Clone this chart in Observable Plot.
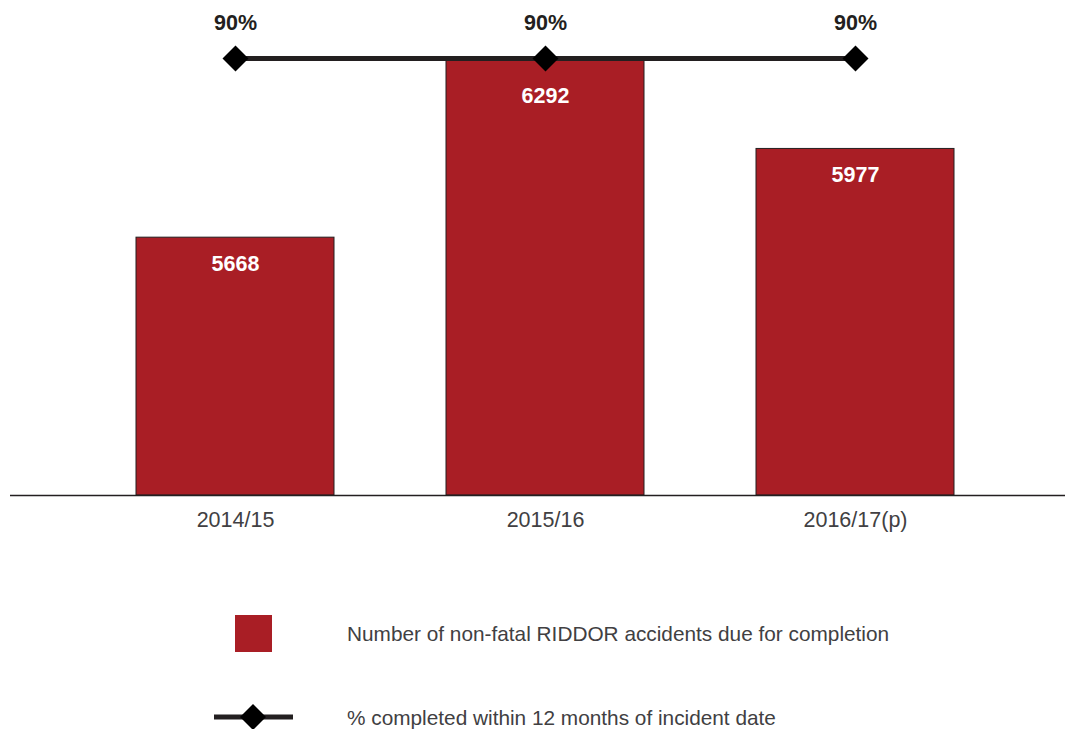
<!DOCTYPE html>
<html>
<head>
<meta charset="utf-8">
<script src="https://cdn.jsdelivr.net/npm/d3@7"></script>
<script src="https://cdn.jsdelivr.net/npm/@observablehq/plot@0.6"></script>
<style>
  html, body { margin: 0; padding: 0; background: #fff; }
  body { font-family: "Liberation Sans", Arial, sans-serif; width: 1065px; overflow: hidden; }
  #legend { position: relative; width: 1065px; height: 184px; }
  #legend .swatch { position: absolute; left: 235px; top: 70px; width: 37px; height: 37px; background: #a91e25; }
  #legend .lbl { position: absolute; left: 347px; font-size: 20.8px; line-height: 24px; color: #414042; white-space: nowrap; }
  #legend svg { position: absolute; left: 214px; top: 157px; overflow: visible; }
</style>
</head>
<body>
<div id="chart"></div>
<div id="legend">
  <div class="swatch"></div>
  <div class="lbl" id="lbl1" style="top:77px"></div>
  <svg width="80" height="30">
    <line x1="0" x2="79" y1="15" y2="15" stroke="#231f20" stroke-width="5"></line>
    <path d="M39,2 L52,15 L39,28 L26,15 Z" fill="#000"></path>
  </svg>
  <div class="lbl" id="lbl2" style="top:161px"></div>
</div>
<script>
const categories = ["2014/15", "2015/16", "2016/17(p)"];
const accidents = [5668, 6292, 5977];
const pctCompleted = [0.90, 0.90, 0.90];
const seriesNames = [
  "Number of non-fatal RIDDOR accidents due for completion",
  "% completed within 12 months of incident date"
];
const yMin = 4770;                 // primary axis minimum
const yMax = d3.max(accidents);    // primary axis maximum
const pctDomain = [0, 0.9];        // secondary axis

const data = categories.map((c, i) => ({cat: c, value: accidents[i], pct: pctCompleted[i]}));
const toY = p => yMin + (p - pctDomain[0]) / (pctDomain[1] - pctDomain[0]) * (yMax - yMin);
const near = d => Math.abs(toY(d.pct) - d.value) < (yMax - yMin) * 0.03;

const red = "#a91e25", dark = "#231f20";

const chart = Plot.plot({
  width: 1065,
  height: 545,
  marginLeft: 10,
  marginRight: 0,
  marginTop: 58,
  marginBottom: 50,
  style: {fontFamily: "'Liberation Sans', Arial, sans-serif", background: "white", overflow: "visible"},
  x: {domain: categories, paddingInner: 0.361, paddingOuter: 0.382, align: 0.53, label: null, axis: null},
  y: {domain: [yMin, yMax], axis: null},
  marks: [
    Plot.barY(data, {x: "cat", y1: yMin, y2: "value", fill: red, stroke: dark, strokeWidth: 1}),
    Plot.ruleY([yMin], {stroke: dark, strokeWidth: 1.5}),
    Plot.axisX({tickSize: 0, tickPadding: 16, fontSize: 21.5, color: "#414042", label: null}),
    Plot.text(data.filter(d => !near(d)), {x: "cat", y: "value", text: d => String(d.value), dy: 26, fill: "white", fontWeight: "bold", fontSize: 21.5}),
    Plot.text(data.filter(near), {x: "cat", y: "value", text: d => String(d.value), dy: 38, fill: "white", fontWeight: "bold", fontSize: 21.5}),
    Plot.line(data, {x: "cat", y: d => toY(d.pct), stroke: dark, strokeWidth: 5}),
    Plot.dot(data, {x: "cat", y: d => toY(d.pct), symbol: "diamond2", r: 11.7, fill: "black", stroke: "none"}),
    Plot.text(data, {x: "cat", y: d => toY(d.pct), text: d => Math.round(d.pct * 100) + "%", dy: -35, fill: dark, fontWeight: "bold", fontSize: 21.5})
  ]
});
document.getElementById("chart").appendChild(chart);
document.getElementById("lbl1").textContent = seriesNames[0];
document.getElementById("lbl2").textContent = seriesNames[1];
</script>
</body>
</html>
